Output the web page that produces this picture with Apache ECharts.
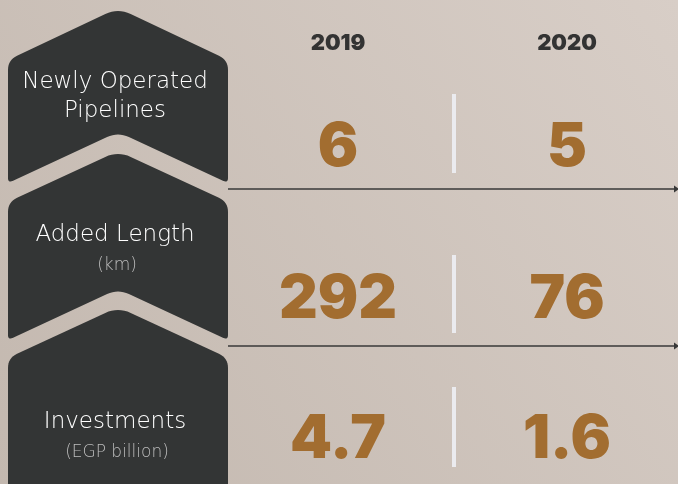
<!DOCTYPE html>
<html>
<head>
<meta charset="utf-8">
<script src="https://cdn.jsdelivr.net/npm/echarts@6/dist/echarts.min.js"></script>
<style>
  html, body { margin: 0; padding: 0; }
  #chart { width: 678px; height: 484px; }
</style>
</head>
<body>
<div id="chart"></div>
<script>
// data
var years = ['2019', '2020'];
var metrics = ['Newly Operated\nPipelines', 'Added Length', 'Investments'];
var units = ['', '(km)', '(EGP billion)'];
var values2019 = [6, 292, 4.7];
var values2020 = [5, 76, 1.6];

var rowCenters = [148, 300, 440]; // vertical centre of each row (px)

// polygon with rounded corners (quadratic corners sampled into points)
function roundedPoints(pts, radii) {
  var out = [];
  var n = pts.length;
  for (var i = 0; i < n; i++) {
    var p = pts[i], a = pts[(i - 1 + n) % n], b = pts[(i + 1) % n];
    var r = radii[i];
    if (!r) { out.push(p); continue; }
    var la = Math.hypot(a[0] - p[0], a[1] - p[1]);
    var lb = Math.hypot(b[0] - p[0], b[1] - p[1]);
    var s = [p[0] + (a[0] - p[0]) * r / la, p[1] + (a[1] - p[1]) * r / la];
    var e = [p[0] + (b[0] - p[0]) * r / lb, p[1] + (b[1] - p[1]) * r / lb];
    for (var k = 0; k <= 8; k++) {
      var t = k / 8, u = 1 - t;
      out.push([
        u * u * s[0] + 2 * u * t * p[0] + t * t * e[0],
        u * u * s[1] + 2 * u * t * p[1] + t * t * e[1]
      ]);
    }
  }
  return out;
}

var dark = '#333535';
var shapes = [
  { pts: [[8, 60], [118, 8], [228, 60], [228, 183], [118, 132], [8, 183]], r: [10, 14, 10, 5, 12, 5] },
  { pts: [[8, 202], [118, 151], [228, 202], [228, 340], [118, 289], [8, 340]], r: [10, 14, 10, 5, 12, 5] },
  { pts: [[8, 358], [118, 307], [228, 358], [228, 520], [8, 520]], r: [10, 14, 10, 0, 0] }
];

var graphics = [];
shapes.forEach(function (s) {
  graphics.push({
    type: 'polygon',
    shape: { points: roundedPoints(s.pts, s.r) },
    style: { fill: dark }
  });
});

// labels on the dark blocks
var nameY = [97, 235, 422];
var unitY = [0, 266, 453];
metrics.forEach(function (m, i) {
  graphics.push({
    type: 'text',
    x: 115, y: nameY[i],
    style: {
      text: m, fill: '#ffffff', font: '300 23px "DejaVu Sans"',
      align: 'center', verticalAlign: 'middle', lineHeight: 29
    }
  });
  if (units[i]) {
    graphics.push({
      type: 'text',
      x: 117, y: unitY[i],
      style: {
        text: units[i], fill: '#bdbdbd', font: '300 17px "DejaVu Sans"',
        align: 'center', verticalAlign: 'middle'
      }
    });
  }
});

// separators between rows (with arrow)
[189, 346].forEach(function (y) {
  graphics.push({
    type: 'line',
    shape: { x1: 228, y1: y, x2: 675, y2: y },
    style: { stroke: '#383838', lineWidth: 1.6 }
  });
  graphics.push({
    type: 'polygon',
    shape: { points: [[674, y - 3.5], [679, y], [674, y + 3.5]] },
    style: { fill: '#383838' }
  });
});

// white bars between year columns
[[94, 173], [255, 333], [387, 467]].forEach(function (b) {
  graphics.push({
    type: 'rect',
    shape: { x: 452, y: b[0], width: 4, height: b[1] - b[0] },
    style: { fill: '#ebebef' }
  });
});

var grids = [], xAxes = [], yAxes = [], series = [];
metrics.forEach(function (m, i) {
  grids.push({ left: 338, right: 111, top: rowCenters[i] - 30, height: 60 });
  xAxes.push({
    type: 'category', gridIndex: i, data: years, boundaryGap: false,
    position: 'top', offset: 56,
    axisLine: { show: false }, axisTick: { show: false }, splitLine: { show: false },
    axisLabel: {
      show: i === 0, margin: 8, color: '#333333',
      fontFamily: 'Inter', fontWeight: 900, fontSize: 22
    }
  });
  yAxes.push({
    type: 'category', gridIndex: i, data: [m], show: false
  });
  series.push({
    type: 'scatter', xAxisIndex: i, yAxisIndex: i,
    symbolSize: 1, itemStyle: { color: 'transparent', opacity: 1 },
    silent: true,
    data: [[years[0], m, values2019[i]], [years[1], m, values2020[i]]],
    label: {
      show: true, position: 'inside', opacity: 1,
      formatter: function (p) { return p.value[2]; },
      color: '#a26d30', fontFamily: 'Inter', fontWeight: 900, fontSize: 60
    }
  });
});

var myChart = echarts.init(document.getElementById('chart'));
myChart.setOption({
  animation: false,
  backgroundColor: {
    type: 'linear', x: 1, y: 0, x2: 0, y2: 1,
    colorStops: [
      { offset: 0, color: '#d8cec7' },
      { offset: 1, color: '#c3b8af' }
    ]
  },
  grid: grids,
  xAxis: xAxes,
  yAxis: yAxes,
  series: series,
  graphic: graphics
});
</script>
</body>
</html>
